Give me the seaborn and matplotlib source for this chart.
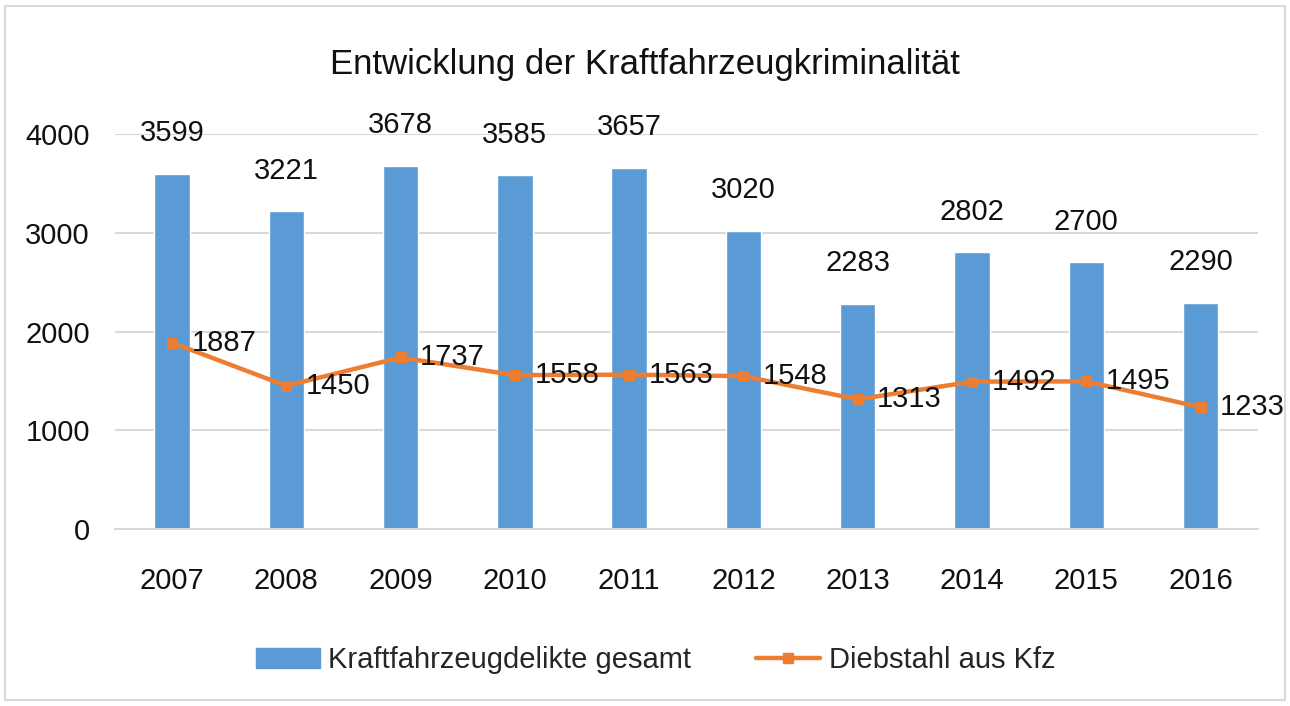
import matplotlib
matplotlib.use("Agg")
import matplotlib.pyplot as plt
import seaborn as sns
import numpy as np
import pandas as pd
from matplotlib.patches import Rectangle
from matplotlib.lines import Line2D
from matplotlib.patches import Patch

years = ["2007", "2008", "2009", "2010", "2011", "2012", "2013", "2014", "2015", "2016"]
total = [3599, 3221, 3678, 3585, 3657, 3020, 2283, 2802, 2700, 2290]
theft = [1887, 1450, 1737, 1558, 1563, 1548, 1313, 1492, 1495, 1233]
yticks = [0, 1000, 2000, 3000, 4000]

sns.set_theme(style="white")
plt.rcParams['font.family'] = ['Liberation Sans', 'DejaVu Sans']

bar_color = "#5B9BD5"
line_color = "#ED7D31"
grid_color = "#D9D9D9"
text_color = "#111111"
fs = 21

fig = plt.figure(figsize=(12.9, 7.06), dpi=100)
ax = fig.add_axes([0.089, 0.2507, 0.886, 0.5595])

df = pd.DataFrame({"year": years, "total": total, "theft": theft})
sns.barplot(data=df, x="year", y="total", color=bar_color, width=0.31,
            saturation=1, ax=ax, zorder=2)
xpos = np.arange(len(years))
sns.lineplot(x=xpos, y=theft, color=line_color, lw=3.2, marker="s", markersize=7,
             markeredgecolor=line_color, ax=ax, zorder=3)

ax.set_ylim(0, 4000)
ax.set_xlim(-0.5, len(years) - 0.5)
ax.set_yticks(yticks)
ax.set_yticklabels([str(v) for v in yticks])
ax.yaxis.grid(True, color=grid_color, lw=1.5, zorder=0)
ax.set_axisbelow(True)
for s in ["top", "right", "left"]:
    ax.spines[s].set_visible(False)
ax.spines["bottom"].set_color(grid_color)
ax.spines["bottom"].set_linewidth(1.5)
ax.tick_params(axis="both", length=0, labelsize=fs, colors=text_color)
ax.tick_params(axis="x", pad=27)
ax.tick_params(axis="y", pad=18)
ax.set_xlabel("")
ax.set_ylabel("")

for i, v in enumerate(total):
    ax.annotate(str(v), (i, v), xytext=(0, 19), textcoords="offset points",
                ha="center", va="bottom", fontsize=fs, color=text_color,
                annotation_clip=False)
for i, v in enumerate(theft):
    ax.annotate(str(v), (i, v), xytext=(14, 0), textcoords="offset points",
                ha="left", va="center", fontsize=fs, color=text_color,
                annotation_clip=False, zorder=5)

fig.text(0.5, 0.908, "Entwicklung der Kraftfahrzeugkriminalität", ha="center",
         va="center", fontsize=25, color=text_color)

handles = [Patch(facecolor=bar_color, edgecolor=bar_color),
           Line2D([0], [0], color=line_color, lw=3.2, marker="s", markersize=7)]
labels = ["Kraftfahrzeugdelikte gesamt", "Diebstahl aus Kfz"]
fig.legend(handles, labels, loc="center", bbox_to_anchor=(0.508, 0.065), ncol=2,
           frameon=False, fontsize=fs, handlelength=2.2, columnspacing=2.2,
           handletextpad=0.3)

fig.add_artist(Rectangle((5 / 1290, 6 / 706), 1280 / 1290, 694 / 706,
                         transform=fig.transFigure, fill=False,
                         edgecolor=grid_color, lw=1.5))

fig.savefig("out.png", dpi=100, facecolor="white")
